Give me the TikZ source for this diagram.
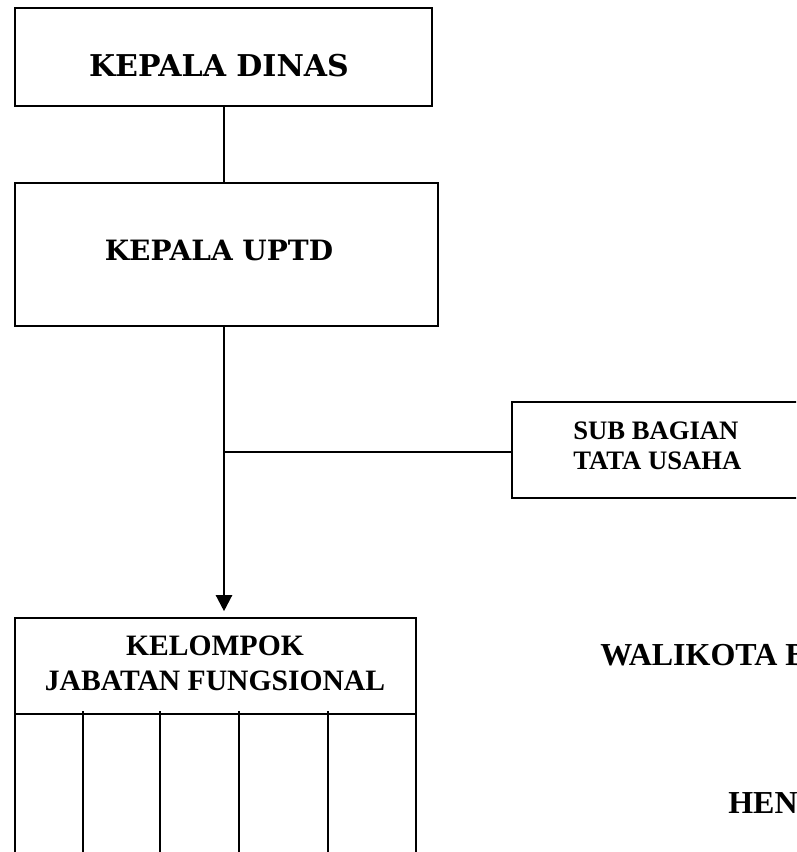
\documentclass[tikz,border=0pt]{standalone}
\usepackage{fontspec}
\setmainfont{Liberation Serif}
\newfontfamily\bookfont{DejaVu Serif}
\usetikzlibrary{arrows.meta}

\begin{document}
\begin{tikzpicture}[x=0.75pt, y=-0.75pt,
    kotak/.style={draw, line width=1.2pt, inner sep=0pt},
    garis/.style={line width=0.9pt},
    tebal/.style={line width=1.7pt}]

% page frame
\useasboundingbox (0,0) rectangle (796,852);
\clip (0,0) rectangle (796,852);

% boxes
\node[kotak, minimum width=312.75pt, minimum height=73.5pt] (dinas) at (223.5,57) {};
\node[kotak, minimum width=317.25pt, minimum height=107.25pt] (uptd) at (226.5,254.5) {};
\node[kotak, minimum width=291pt, minimum height=72pt] (sub) at (706,450) {};
\node[kotak, minimum width=300.75pt, minimum height=211.5pt] (jafung) at (215.5,759) {};

% header line and columns of kelompok
\draw[garis] (jafung.west |- 0,714) -- (jafung.east |- 0,714);
\foreach \xk in {83,160,239,328}
  \draw[garis] (\xk,711) -- (\xk,880);

% texts
\node[font=\bookfont\bfseries\fontsize{22.5}{27}\selectfont] (tdinas) at (219,66) {KEPALA DINAS};
\node[font=\bookfont\bfseries\fontsize{21}{25}\selectfont] (tuptd) at (219,250) {KEPALA UPTD};
\node[font=\bfseries\fontsize{22.2}{26.25}\selectfont, align=center, inner sep=0pt] (tjafung) at (215,663.5) {KELOMPOK\\JABATAN FUNGSIONAL};
\node[font=\bfseries\fontsize{20}{22.5}\selectfont, align=left, anchor=west, inner sep=0pt] (tsub) at (573,446) {SUB BAGIAN\\TATA USAHA};
\node[font=\bfseries\fontsize{24}{28}\selectfont, anchor=west, inner sep=0pt] (wali) at (600,655.5) {WALIKOTA B};
\node[font=\bfseries\fontsize{24}{28}\selectfont, anchor=west, inner sep=0pt] (nama) at (728,803.5) {HEN};

% connectors
\coordinate (cabang) at (224,452);
\draw[garis] (dinas.south -| cabang) -- (uptd.north -| cabang);
\draw[tebal, -{Triangle[width=12pt,length=12pt]}, shorten >=4.5pt] (uptd.south -| cabang) -- (jafung.north -| cabang);
\draw[garis] (cabang) -- (cabang -| sub.west);

\end{tikzpicture}
\end{document}
